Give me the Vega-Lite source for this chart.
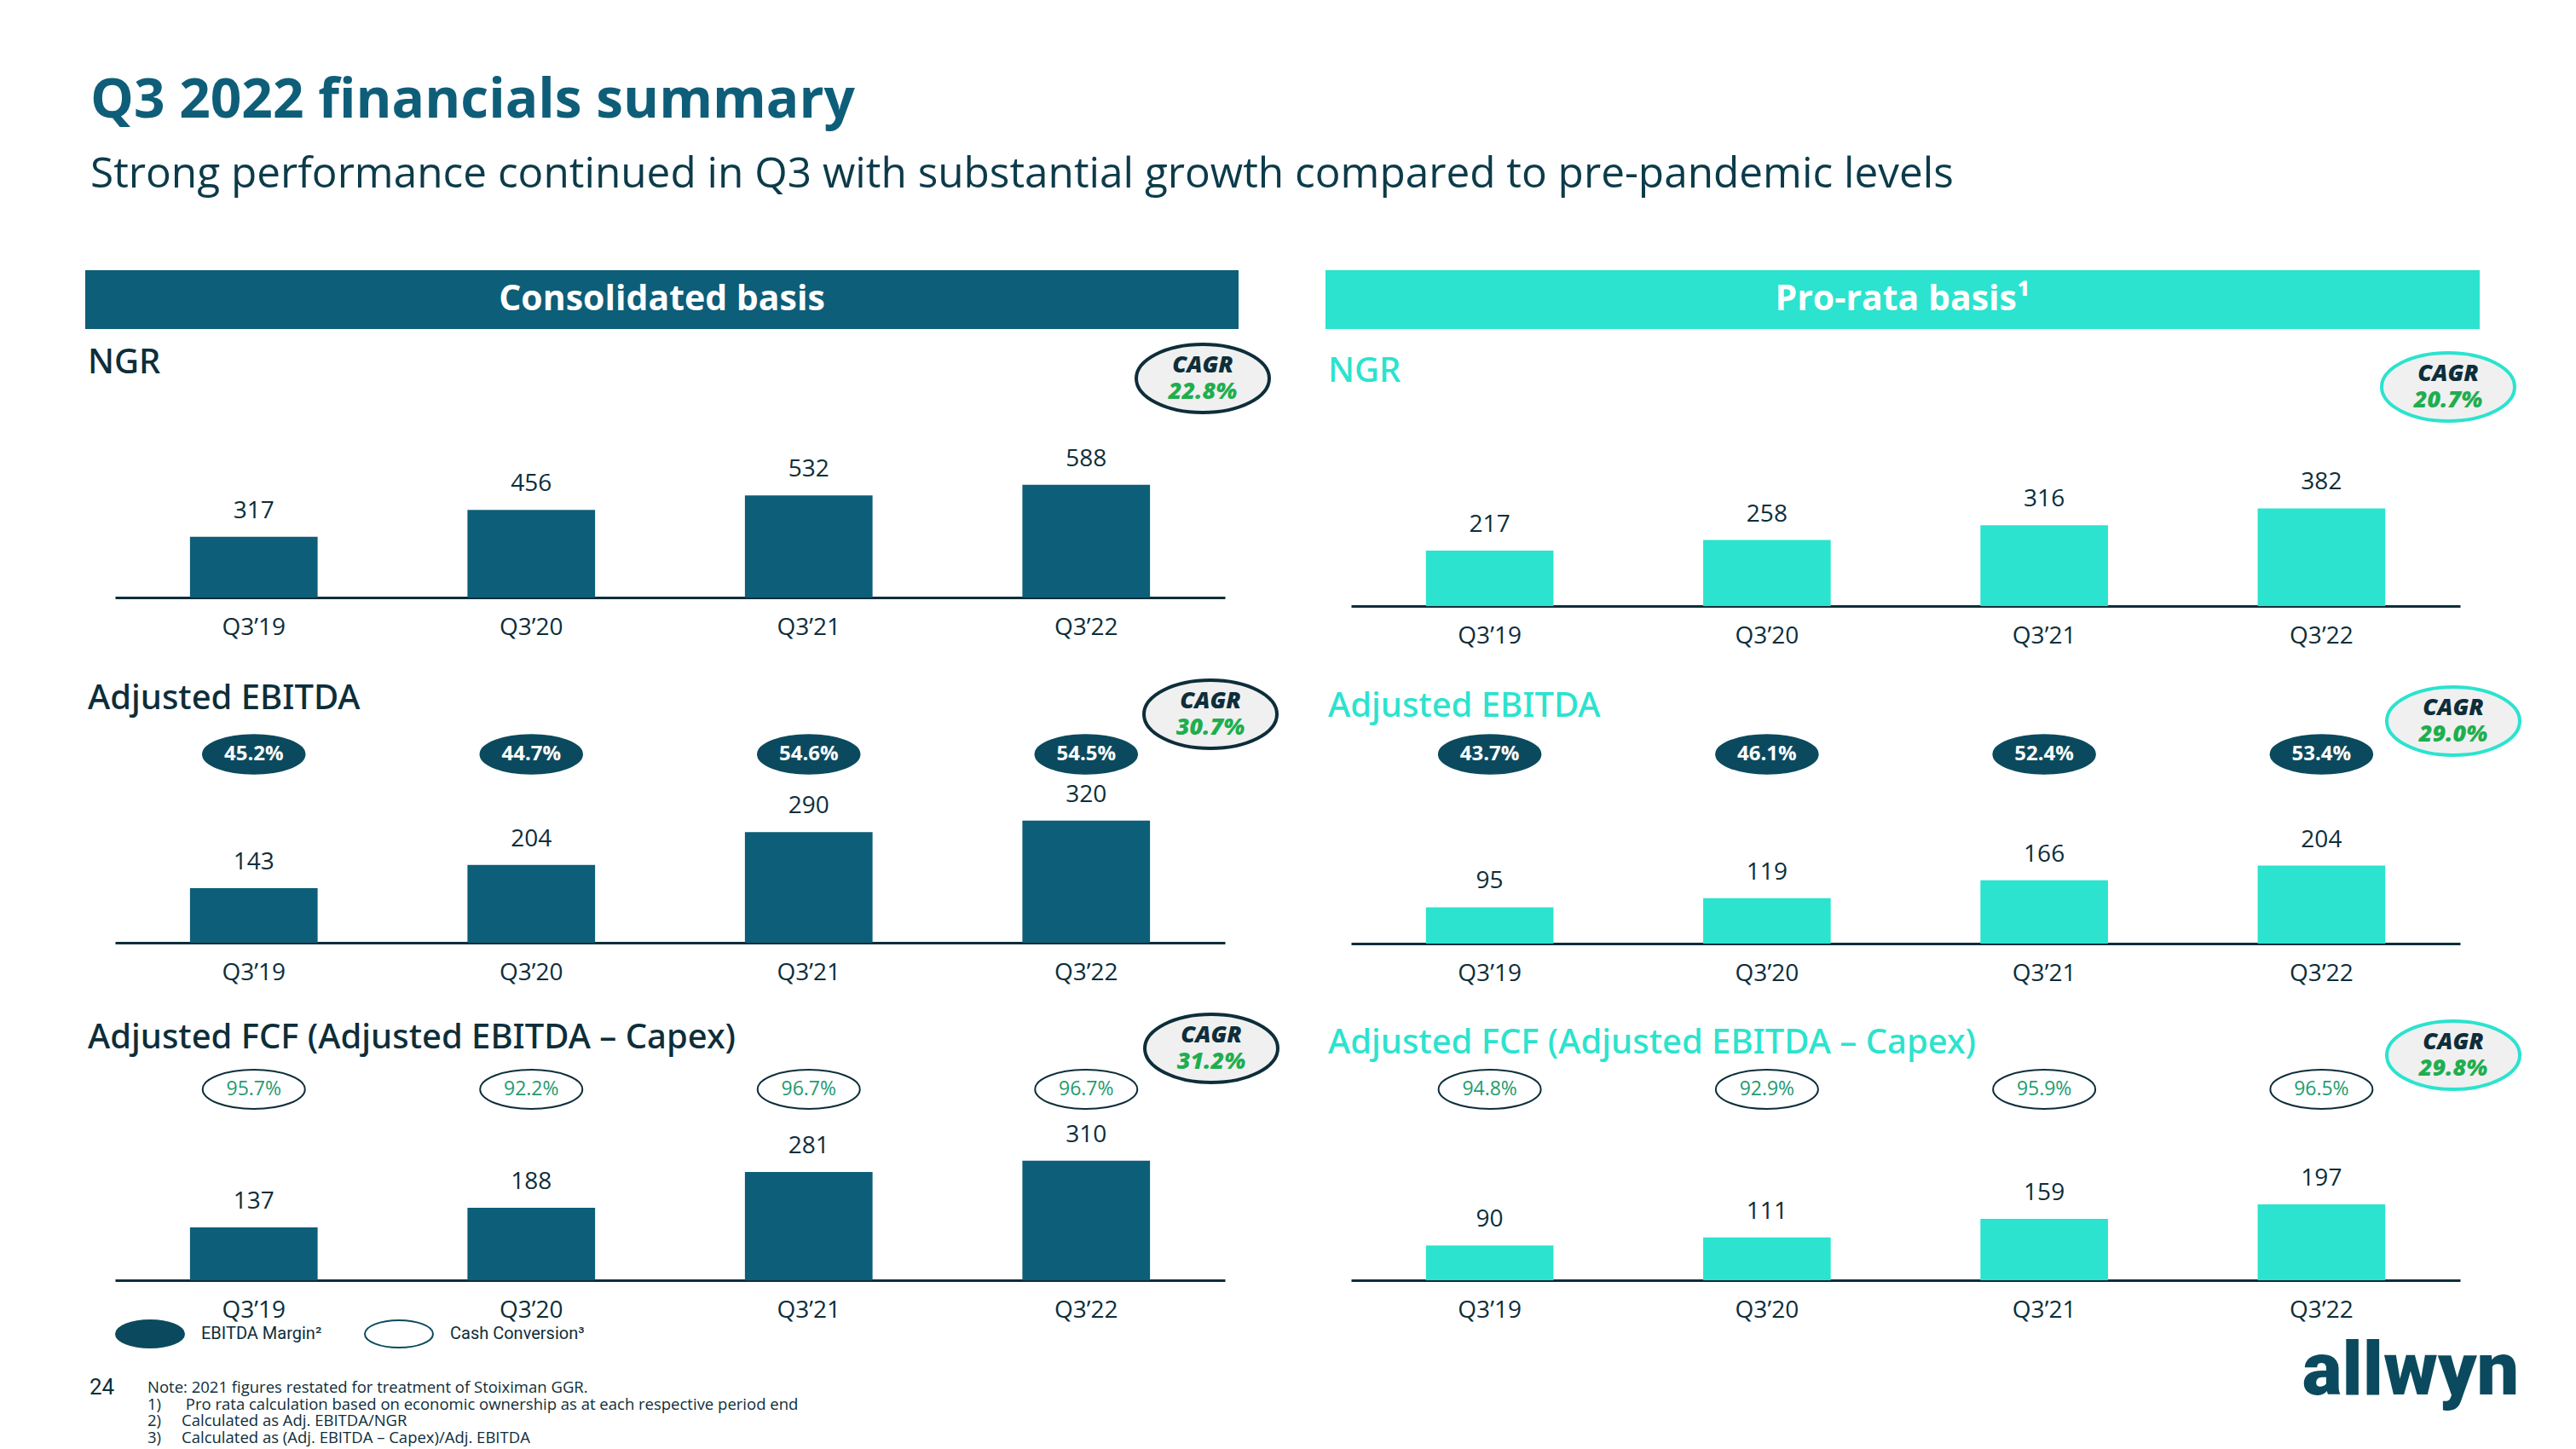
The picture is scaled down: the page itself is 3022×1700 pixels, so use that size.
{
"$schema": "https://vega.github.io/schema/vega-lite/v6.json",
"background": "#ffffff",
"padding": {"left": 100, "top": 86, "right": 10, "bottom": 4},
"bounds": "full",
"spacing": 0,
"title": {
  "text": "Q3 2022 financials summary",
  "subtitle": "Strong performance continued in Q3 with substantial growth compared to pre-pandemic levels",
  "anchor": "start", "frame": "group", "orient": "top", "offset": 88, "dx": 6, "baseline": "top",
  "font": "Open Sans", "fontSize": 64, "fontWeight": 700, "color": "#0f5e79",
  "subtitleFont": "Open Sans", "subtitleFontSize": 49.5, "subtitleFontWeight": 400, "subtitleColor": "#0c3b4a", "subtitlePadding": 30
},
"datasets": {
  "bars": [
    {"basis": "Consolidated", "metric": "NGR", "quarter": "Q3’19", "value": 317},
    {"basis": "Consolidated", "metric": "NGR", "quarter": "Q3’20", "value": 456},
    {"basis": "Consolidated", "metric": "NGR", "quarter": "Q3’21", "value": 532},
    {"basis": "Consolidated", "metric": "NGR", "quarter": "Q3’22", "value": 588},
    {"basis": "Consolidated", "metric": "Adjusted EBITDA", "quarter": "Q3’19", "value": 143},
    {"basis": "Consolidated", "metric": "Adjusted EBITDA", "quarter": "Q3’20", "value": 204},
    {"basis": "Consolidated", "metric": "Adjusted EBITDA", "quarter": "Q3’21", "value": 290},
    {"basis": "Consolidated", "metric": "Adjusted EBITDA", "quarter": "Q3’22", "value": 320},
    {"basis": "Consolidated", "metric": "Adjusted FCF", "quarter": "Q3’19", "value": 137},
    {"basis": "Consolidated", "metric": "Adjusted FCF", "quarter": "Q3’20", "value": 188},
    {"basis": "Consolidated", "metric": "Adjusted FCF", "quarter": "Q3’21", "value": 281},
    {"basis": "Consolidated", "metric": "Adjusted FCF", "quarter": "Q3’22", "value": 310},
    {"basis": "Pro-rata", "metric": "NGR", "quarter": "Q3’19", "value": 217},
    {"basis": "Pro-rata", "metric": "NGR", "quarter": "Q3’20", "value": 258},
    {"basis": "Pro-rata", "metric": "NGR", "quarter": "Q3’21", "value": 316},
    {"basis": "Pro-rata", "metric": "NGR", "quarter": "Q3’22", "value": 382},
    {"basis": "Pro-rata", "metric": "Adjusted EBITDA", "quarter": "Q3’19", "value": 95},
    {"basis": "Pro-rata", "metric": "Adjusted EBITDA", "quarter": "Q3’20", "value": 119},
    {"basis": "Pro-rata", "metric": "Adjusted EBITDA", "quarter": "Q3’21", "value": 166},
    {"basis": "Pro-rata", "metric": "Adjusted EBITDA", "quarter": "Q3’22", "value": 204},
    {"basis": "Pro-rata", "metric": "Adjusted FCF", "quarter": "Q3’19", "value": 90},
    {"basis": "Pro-rata", "metric": "Adjusted FCF", "quarter": "Q3’20", "value": 111},
    {"basis": "Pro-rata", "metric": "Adjusted FCF", "quarter": "Q3’21", "value": 159},
    {"basis": "Pro-rata", "metric": "Adjusted FCF", "quarter": "Q3’22", "value": 197}
  ],
  "ratios": [
    {"basis": "Consolidated", "kind": "EBITDA Margin²", "quarter": "Q3’19", "ratio": 0.452},
    {"basis": "Consolidated", "kind": "EBITDA Margin²", "quarter": "Q3’20", "ratio": 0.447},
    {"basis": "Consolidated", "kind": "EBITDA Margin²", "quarter": "Q3’21", "ratio": 0.546},
    {"basis": "Consolidated", "kind": "EBITDA Margin²", "quarter": "Q3’22", "ratio": 0.545},
    {"basis": "Consolidated", "kind": "Cash Conversion³", "quarter": "Q3’19", "ratio": 0.957},
    {"basis": "Consolidated", "kind": "Cash Conversion³", "quarter": "Q3’20", "ratio": 0.922},
    {"basis": "Consolidated", "kind": "Cash Conversion³", "quarter": "Q3’21", "ratio": 0.967},
    {"basis": "Consolidated", "kind": "Cash Conversion³", "quarter": "Q3’22", "ratio": 0.967},
    {"basis": "Pro-rata", "kind": "EBITDA Margin²", "quarter": "Q3’19", "ratio": 0.437},
    {"basis": "Pro-rata", "kind": "EBITDA Margin²", "quarter": "Q3’20", "ratio": 0.461},
    {"basis": "Pro-rata", "kind": "EBITDA Margin²", "quarter": "Q3’21", "ratio": 0.524},
    {"basis": "Pro-rata", "kind": "EBITDA Margin²", "quarter": "Q3’22", "ratio": 0.534},
    {"basis": "Pro-rata", "kind": "Cash Conversion³", "quarter": "Q3’19", "ratio": 0.948},
    {"basis": "Pro-rata", "kind": "Cash Conversion³", "quarter": "Q3’20", "ratio": 0.929},
    {"basis": "Pro-rata", "kind": "Cash Conversion³", "quarter": "Q3’21", "ratio": 0.959},
    {"basis": "Pro-rata", "kind": "Cash Conversion³", "quarter": "Q3’22", "ratio": 0.965}
  ],
  "cagr": [
    {"basis": "Consolidated", "metric": "NGR", "cagr": 0.228},
    {"basis": "Consolidated", "metric": "Adjusted EBITDA", "cagr": 0.307},
    {"basis": "Consolidated", "metric": "Adjusted FCF", "cagr": 0.312},
    {"basis": "Pro-rata", "metric": "NGR", "cagr": 0.207},
    {"basis": "Pro-rata", "metric": "Adjusted EBITDA", "cagr": 0.290},
    {"basis": "Pro-rata", "metric": "Adjusted FCF", "cagr": 0.298}
  ],
  "headers": [
    {"basis": "Consolidated", "label": "Consolidated basis"},
    {"basis": "Pro-rata", "label": "Pro-rata basis¹"}
  ],
  "logo": [{"label": "allwyn"}]
},
"config": {
  "view": {"stroke": null},
  "concat": {"spacing": 0},
  "font": "Open Sans"
},
"vconcat": [
  {"hconcat": [
    {"vconcat": [
      {"width": 1353, "height": 69, "view": {"fill": "#0d5e78", "stroke": null},
       "data": {"name": "headers"}, "transform": [{"filter": "datum.basis === 'Consolidated'"}],
       "mark": {"type": "text", "font": "Open Sans", "fontSize": 41, "fontWeight": 700, "color": "#ffffff"},
       "encoding": {"text": {"field": "label", "type": "nominal"}}},
      {"hconcat": [
        {"width": 1233, "height": 116, "data": {"values": []}, "mark": "point",
         "title": {"text": "NGR", "orient": "bottom", "anchor": "start", "frame": "group", "offset": -96, "dx": 3, "baseline": "top", "font": "Noto Sans", "fontSize": 40, "fontWeight": 500, "color": "#0d2e3a"}},
        {"width": 156, "height": 116, "data": {"name": "cagr"},
         "transform": [{"filter": "datum.basis === 'Consolidated' && datum.metric === 'NGR'"}],
         "layer": [
           {"mark": {"type": "point", "shape": "M-1,0A1,0.513,0,1,1,1,0A1,0.513,0,1,1,-1,0Z", "size": 24336, "filled": true, "fill": "#f0f0f0", "stroke": "#0d2e3a", "strokeWidth": 4, "opacity": 1}},
           {"mark": {"type": "text", "text": "CAGR", "dy": -15, "font": "Open Sans", "fontSize": 27, "fontStyle": "italic", "fontWeight": 800, "color": "#0d2e3a"}},
           {"mark": {"type": "text", "dy": 16, "font": "Open Sans", "fontSize": 27, "fontStyle": "italic", "fontWeight": 800, "color": "#1fae4f"},
            "encoding": {"text": {"field": "cagr", "type": "quantitative", "format": ".1%"}}}
         ]}
      ], "spacing": 0, "bounds": "flush"},
      {"width": 1353, "height": 199, "data": {"name": "bars"},
       "transform": [{"filter": "datum.basis === 'Consolidated' && datum.metric === 'NGR'"}],
       "encoding": {
         "x": {"field": "quarter", "type": "nominal", "scale": {"type": "band", "domain": ["Q3’19", "Q3’20", "Q3’21", "Q3’22"], "range": [35, 1337], "paddingInner": 0.54, "paddingOuter": 0.27},
               "axis": {"title": null, "labelAngle": 0, "labelFont": "Open Sans", "labelFontSize": 28, "labelColor": "#0d2e3a", "labelPadding": 21, "ticks": false, "tickSize": 0, "domainColor": "#0d2e3a", "domainWidth": 3, "grid": false}},
         "y": {"field": "value", "type": "quantitative", "scale": {"domain": [0, 884], "nice": false}, "axis": null}
       },
       "layer": [
         {"mark": {"type": "bar", "color": "#0d5e78"}},
         {"mark": {"type": "text", "baseline": "alphabetic", "dy": -22, "font": "Open Sans", "fontSize": 28, "color": "#0d2e3a"},
          "encoding": {"text": {"field": "value", "type": "quantitative"}}}
       ]},
      {"width": 1353, "height": 39, "data": {"values": []}, "mark": "point"},
      {"hconcat": [
        {"vconcat": [
          {"width": 1233, "height": 63, "data": {"values": []}, "mark": "point",
           "title": {"text": "Adjusted EBITDA", "orient": "bottom", "anchor": "start", "frame": "group", "offset": -59, "dx": 3, "baseline": "top", "font": "Noto Sans", "fontSize": 40, "fontWeight": 500, "color": "#0d2e3a"}},
          {"width": 1233, "height": 46, "data": {"name": "ratios"},
           "transform": [{"filter": "datum.basis === 'Consolidated' && datum.kind === 'EBITDA Margin²'"}],
           "encoding": {"x": {"field": "quarter", "type": "nominal", "scale": {"type": "band", "domain": ["Q3’19", "Q3’20", "Q3’21", "Q3’22"], "range": [35, 1337], "paddingInner": 0.54, "paddingOuter": 0.27}, "axis": null}},
           "layer": [
             {"mark": {"type": "point", "shape": "M-1,0A1,0.383,0,1,1,1,0A1,0.383,0,1,1,-1,0Z", "size": 14400, "filled": true, "opacity": 1, "stroke": "#0b4a5e", "strokeWidth": 1.5},
              "encoding": {"fill": {"field": "kind", "type": "nominal", "scale": {"domain": ["EBITDA Margin²", "Cash Conversion³"], "range": ["#0b4a5e", "#ffffff"]},
                "legend": {"title": null, "orient": "none", "legendX": 35, "legendY": 1207, "direction": "horizontal", "padding": 0, "symbolType": "M-1,0A1,0.4,0,1,1,1,0A1,0.4,0,1,1,-1,0Z", "symbolSize": 6400, "symbolStrokeColor": "#0b4a5e", "symbolStrokeWidth": 2, "symbolOpacity": 1, "labelFont": "Roboto", "labelFontSize": 20, "labelColor": "#0d2e3a", "labelOffset": 19, "columnPadding": 46, "labelLimit": 400}}}},
             {"mark": {"type": "text", "font": "Open Sans", "fontSize": 24, "fontWeight": 700, "color": "#ffffff"},
              "encoding": {"text": {"field": "ratio", "type": "quantitative", "format": ".1%"}}}
           ]}
        ], "spacing": 0, "bounds": "full"},
        {"width": 156, "height": 84, "data": {"name": "cagr"},
         "transform": [{"filter": "datum.basis === 'Consolidated' && datum.metric === 'Adjusted EBITDA'"}],
         "layer": [
           {"mark": {"type": "point", "shape": "M-1,0A1,0.513,0,1,1,1,0A1,0.513,0,1,1,-1,0Z", "size": 24336, "filled": true, "fill": "#f0f0f0", "stroke": "#0d2e3a", "strokeWidth": 4, "opacity": 1}},
           {"mark": {"type": "text", "text": "CAGR", "dy": -15, "font": "Open Sans", "fontSize": 27, "fontStyle": "italic", "fontWeight": 800, "color": "#0d2e3a"}},
           {"mark": {"type": "text", "dy": 16, "font": "Open Sans", "fontSize": 27, "fontStyle": "italic", "fontWeight": 800, "color": "#1fae4f"},
            "encoding": {"text": {"field": "cagr", "type": "quantitative", "format": ".1%"}}}
         ]}
      ], "spacing": -4, "bounds": "full"},
      {"width": 1353, "height": 195, "data": {"name": "bars"},
       "transform": [{"filter": "datum.basis === 'Consolidated' && datum.metric === 'Adjusted EBITDA'"}],
       "encoding": {
         "x": {"field": "quarter", "type": "nominal", "scale": {"type": "band", "domain": ["Q3’19", "Q3’20", "Q3’21", "Q3’22"], "range": [35, 1337], "paddingInner": 0.54, "paddingOuter": 0.27},
               "axis": {"title": null, "labelAngle": 0, "labelFont": "Open Sans", "labelFontSize": 28, "labelColor": "#0d2e3a", "labelPadding": 21, "ticks": false, "tickSize": 0, "domainColor": "#0d2e3a", "domainWidth": 3, "grid": false}},
         "y": {"field": "value", "type": "quantitative", "scale": {"domain": [0, 435.5], "nice": false}, "axis": null}
       },
       "layer": [
         {"mark": {"type": "bar", "color": "#0d5e78"}},
         {"mark": {"type": "text", "baseline": "alphabetic", "dy": -22, "font": "Open Sans", "fontSize": 28, "color": "#0d2e3a"},
          "encoding": {"text": {"field": "value", "type": "quantitative"}}}
       ]},
      {"width": 1353, "height": 26, "data": {"values": []}, "mark": "point"},
      {"hconcat": [
        {"vconcat": [
          {"width": 1233, "height": 63, "data": {"values": []}, "mark": "point",
           "title": {"text": "Adjusted FCF (Adjusted EBITDA – Capex)", "orient": "bottom", "anchor": "start", "frame": "group", "offset": -53, "dx": 3, "baseline": "top", "font": "Noto Sans", "fontSize": 40, "fontWeight": 500, "color": "#0d2e3a"}},
          {"width": 1233, "height": 46, "data": {"name": "ratios"},
           "transform": [{"filter": "datum.basis === 'Consolidated' && datum.kind === 'Cash Conversion³'"}],
           "encoding": {"x": {"field": "quarter", "type": "nominal", "scale": {"type": "band", "domain": ["Q3’19", "Q3’20", "Q3’21", "Q3’22"], "range": [35, 1337], "paddingInner": 0.54, "paddingOuter": 0.27}, "axis": null}},
           "layer": [
             {"mark": {"type": "point", "shape": "M-1,0A1,0.383,0,1,1,1,0A1,0.383,0,1,1,-1,0Z", "size": 14400, "filled": true, "opacity": 1, "stroke": "#0d2e3a", "strokeWidth": 2},
              "encoding": {"fill": {"field": "kind", "type": "nominal", "scale": {"domain": ["EBITDA Margin²", "Cash Conversion³"], "range": ["#0b4a5e", "#ffffff"]},
                "legend": {"title": null, "orient": "none", "legendX": 35, "legendY": 1207, "direction": "horizontal", "padding": 0, "symbolType": "M-1,0A1,0.4,0,1,1,1,0A1,0.4,0,1,1,-1,0Z", "symbolSize": 6400, "symbolStrokeColor": "#0b4a5e", "symbolStrokeWidth": 2, "symbolOpacity": 1, "labelFont": "Roboto", "labelFontSize": 20, "labelColor": "#0d2e3a", "labelOffset": 19, "columnPadding": 46, "labelLimit": 400}}}},
             {"mark": {"type": "text", "font": "Open Sans", "fontSize": 23, "fontWeight": 500, "color": "#1f9c70"},
              "encoding": {"text": {"field": "ratio", "type": "quantitative", "format": ".1%"}}}
           ]}
        ], "spacing": 0, "bounds": "full"},
        {"width": 156, "height": 84, "data": {"name": "cagr"},
         "transform": [{"filter": "datum.basis === 'Consolidated' && datum.metric === 'Adjusted FCF'"}],
         "layer": [
           {"mark": {"type": "point", "shape": "M-1,0A1,0.513,0,1,1,1,0A1,0.513,0,1,1,-1,0Z", "size": 24336, "filled": true, "fill": "#f0f0f0", "stroke": "#0d2e3a", "strokeWidth": 4, "opacity": 1}},
           {"mark": {"type": "text", "text": "CAGR", "dy": -15, "font": "Open Sans", "fontSize": 27, "fontStyle": "italic", "fontWeight": 800, "color": "#0d2e3a"}},
           {"mark": {"type": "text", "dy": 16, "font": "Open Sans", "fontSize": 27, "fontStyle": "italic", "fontWeight": 800, "color": "#1fae4f"},
            "encoding": {"text": {"field": "cagr", "type": "quantitative", "format": ".1%"}}}
         ]}
      ], "spacing": -4, "bounds": "full"},
      {"width": 1353, "height": 197, "data": {"name": "bars"},
       "transform": [{"filter": "datum.basis === 'Consolidated' && datum.metric === 'Adjusted FCF'"}],
       "encoding": {
         "x": {"field": "quarter", "type": "nominal", "scale": {"type": "band", "domain": ["Q3’19", "Q3’20", "Q3’21", "Q3’22"], "range": [35, 1337], "paddingInner": 0.54, "paddingOuter": 0.27},
               "axis": {"title": null, "labelAngle": 0, "labelFont": "Open Sans", "labelFontSize": 28, "labelColor": "#0d2e3a", "labelPadding": 21, "ticks": false, "tickSize": 0, "domainColor": "#0d2e3a", "domainWidth": 3, "grid": false}},
         "y": {"field": "value", "type": "quantitative", "scale": {"domain": [0, 435.5], "nice": false}, "axis": null}
       },
       "layer": [
         {"mark": {"type": "bar", "color": "#0d5e78"}},
         {"mark": {"type": "text", "baseline": "alphabetic", "dy": -22, "font": "Open Sans", "fontSize": 28, "color": "#0d2e3a"},
          "encoding": {"text": {"field": "value", "type": "quantitative"}}}
       ]}
    ], "spacing": 0, "bounds": "full"},
    {"vconcat": [
      {"width": 1354, "height": 69, "view": {"fill": "#2be3ce", "stroke": null},
       "data": {"name": "headers"}, "transform": [{"filter": "datum.basis === 'Pro-rata'"}],
       "mark": {"type": "text", "font": "Open Sans", "fontSize": 41, "fontWeight": 700, "color": "#ffffff"},
       "encoding": {"text": {"field": "label", "type": "nominal"}}},
      {"hconcat": [
        {"width": 1239, "height": 136, "data": {"values": []}, "mark": "point",
         "title": {"text": "NGR", "orient": "bottom", "anchor": "start", "frame": "group", "offset": -106, "dx": 3, "baseline": "top", "font": "Noto Sans", "fontSize": 40, "fontWeight": 500, "color": "#2be3ce"}},
        {"width": 156, "height": 136, "data": {"name": "cagr"},
         "transform": [{"filter": "datum.basis === 'Pro-rata' && datum.metric === 'NGR'"}],
         "layer": [
           {"mark": {"type": "point", "shape": "M-1,0A1,0.513,0,1,1,1,0A1,0.513,0,1,1,-1,0Z", "size": 24336, "filled": true, "fill": "#f0f0f0", "stroke": "#2be3ce", "strokeWidth": 4, "opacity": 1}},
           {"mark": {"type": "text", "text": "CAGR", "dy": -15, "font": "Open Sans", "fontSize": 27, "fontStyle": "italic", "fontWeight": 800, "color": "#0d2e3a"}},
           {"mark": {"type": "text", "dy": 16, "font": "Open Sans", "fontSize": 27, "fontStyle": "italic", "fontWeight": 800, "color": "#1fae4f"},
            "encoding": {"text": {"field": "cagr", "type": "quantitative", "format": ".1%"}}}
         ]}
      ], "spacing": 0, "bounds": "flush"},
      {"width": 1354, "height": 189, "data": {"name": "bars"},
       "transform": [{"filter": "datum.basis === 'Pro-rata' && datum.metric === 'NGR'"}],
       "encoding": {
         "x": {"field": "quarter", "type": "nominal", "scale": {"type": "band", "domain": ["Q3’19", "Q3’20", "Q3’21", "Q3’22"], "range": [30, 1331], "paddingInner": 0.54, "paddingOuter": 0.27},
               "axis": {"title": null, "labelAngle": 0, "labelFont": "Open Sans", "labelFontSize": 28, "labelColor": "#0d2e3a", "labelPadding": 21, "ticks": false, "tickSize": 0, "domainColor": "#0d2e3a", "domainWidth": 3, "grid": false}},
         "y": {"field": "value", "type": "quantitative", "scale": {"domain": [0, 630], "nice": false}, "axis": null}
       },
       "layer": [
         {"mark": {"type": "bar", "color": "#2be3ce"}},
         {"mark": {"type": "text", "baseline": "alphabetic", "dy": -22, "font": "Open Sans", "fontSize": 28, "color": "#0d2e3a"},
          "encoding": {"text": {"field": "value", "type": "quantitative"}}}
       ]},
      {"width": 1354, "height": 37, "data": {"values": []}, "mark": "point"},
      {"hconcat": [
        {"vconcat": [
          {"width": 1239, "height": 55, "data": {"values": []}, "mark": "point",
           "title": {"text": "Adjusted EBITDA", "orient": "bottom", "anchor": "start", "frame": "group", "offset": -50, "dx": 3, "baseline": "top", "font": "Noto Sans", "fontSize": 40, "fontWeight": 500, "color": "#2be3ce"}},
          {"width": 1239, "height": 46, "data": {"name": "ratios"},
           "transform": [{"filter": "datum.basis === 'Pro-rata' && datum.kind === 'EBITDA Margin²'"}],
           "encoding": {"x": {"field": "quarter", "type": "nominal", "scale": {"type": "band", "domain": ["Q3’19", "Q3’20", "Q3’21", "Q3’22"], "range": [30, 1331], "paddingInner": 0.54, "paddingOuter": 0.27}, "axis": null}},
           "layer": [
             {"mark": {"type": "point", "shape": "M-1,0A1,0.383,0,1,1,1,0A1,0.383,0,1,1,-1,0Z", "size": 14400, "filled": true, "opacity": 1, "stroke": "#0b4a5e", "strokeWidth": 1.5},
              "encoding": {"fill": {"field": "kind", "type": "nominal", "scale": {"domain": ["EBITDA Margin²", "Cash Conversion³"], "range": ["#0b4a5e", "#ffffff"]},
                "legend": {"title": null, "orient": "none", "legendX": 35, "legendY": 1207, "direction": "horizontal", "padding": 0, "symbolType": "M-1,0A1,0.4,0,1,1,1,0A1,0.4,0,1,1,-1,0Z", "symbolSize": 6400, "symbolStrokeColor": "#0b4a5e", "symbolStrokeWidth": 2, "symbolOpacity": 1, "labelFont": "Roboto", "labelFontSize": 20, "labelColor": "#0d2e3a", "labelOffset": 19, "columnPadding": 46, "labelLimit": 400}}}},
             {"mark": {"type": "text", "font": "Open Sans", "fontSize": 24, "fontWeight": 700, "color": "#ffffff"},
              "encoding": {"text": {"field": "ratio", "type": "quantitative", "format": ".1%"}}}
           ]}
        ], "spacing": 0, "bounds": "full"},
        {"width": 156, "height": 84, "data": {"name": "cagr"},
         "transform": [{"filter": "datum.basis === 'Pro-rata' && datum.metric === 'Adjusted EBITDA'"}],
         "layer": [
           {"mark": {"type": "point", "shape": "M-1,0A1,0.513,0,1,1,1,0A1,0.513,0,1,1,-1,0Z", "size": 24336, "filled": true, "fill": "#f0f0f0", "stroke": "#2be3ce", "strokeWidth": 4, "opacity": 1}},
           {"mark": {"type": "text", "text": "CAGR", "dy": -15, "font": "Open Sans", "fontSize": 27, "fontStyle": "italic", "fontWeight": 800, "color": "#0d2e3a"}},
           {"mark": {"type": "text", "dy": 16, "font": "Open Sans", "fontSize": 27, "fontStyle": "italic", "fontWeight": 800, "color": "#1fae4f"},
            "encoding": {"text": {"field": "cagr", "type": "quantitative", "format": ".1%"}}}
         ]}
      ], "spacing": -2, "bounds": "full"},
      {"width": 1354, "height": 196, "data": {"name": "bars"},
       "transform": [{"filter": "datum.basis === 'Pro-rata' && datum.metric === 'Adjusted EBITDA'"}],
       "encoding": {
         "x": {"field": "quarter", "type": "nominal", "scale": {"type": "band", "domain": ["Q3’19", "Q3’20", "Q3’21", "Q3’22"], "range": [30, 1331], "paddingInner": 0.54, "paddingOuter": 0.27},
               "axis": {"title": null, "labelAngle": 0, "labelFont": "Open Sans", "labelFontSize": 28, "labelColor": "#0d2e3a", "labelPadding": 21, "ticks": false, "tickSize": 0, "domainColor": "#0d2e3a", "domainWidth": 3, "grid": false}},
         "y": {"field": "value", "type": "quantitative", "scale": {"domain": [0, 437.5], "nice": false}, "axis": null}
       },
       "layer": [
         {"mark": {"type": "bar", "color": "#2be3ce"}},
         {"mark": {"type": "text", "baseline": "alphabetic", "dy": -22, "font": "Open Sans", "fontSize": 28, "color": "#0d2e3a"},
          "encoding": {"text": {"field": "value", "type": "quantitative"}}}
       ]},
      {"width": 1354, "height": 33, "data": {"values": []}, "mark": "point"},
      {"hconcat": [
        {"vconcat": [
          {"width": 1239, "height": 55, "data": {"values": []}, "mark": "point",
           "title": {"text": "Adjusted FCF (Adjusted EBITDA – Capex)", "orient": "bottom", "anchor": "start", "frame": "group", "offset": -47, "dx": 3, "baseline": "top", "font": "Noto Sans", "fontSize": 40, "fontWeight": 500, "color": "#2be3ce"}},
          {"width": 1239, "height": 46, "data": {"name": "ratios"},
           "transform": [{"filter": "datum.basis === 'Pro-rata' && datum.kind === 'Cash Conversion³'"}],
           "encoding": {"x": {"field": "quarter", "type": "nominal", "scale": {"type": "band", "domain": ["Q3’19", "Q3’20", "Q3’21", "Q3’22"], "range": [30, 1331], "paddingInner": 0.54, "paddingOuter": 0.27}, "axis": null}},
           "layer": [
             {"mark": {"type": "point", "shape": "M-1,0A1,0.383,0,1,1,1,0A1,0.383,0,1,1,-1,0Z", "size": 14400, "filled": true, "opacity": 1, "stroke": "#0d2e3a", "strokeWidth": 2},
              "encoding": {"fill": {"field": "kind", "type": "nominal", "scale": {"domain": ["EBITDA Margin²", "Cash Conversion³"], "range": ["#0b4a5e", "#ffffff"]},
                "legend": {"title": null, "orient": "none", "legendX": 35, "legendY": 1207, "direction": "horizontal", "padding": 0, "symbolType": "M-1,0A1,0.4,0,1,1,1,0A1,0.4,0,1,1,-1,0Z", "symbolSize": 6400, "symbolStrokeColor": "#0b4a5e", "symbolStrokeWidth": 2, "symbolOpacity": 1, "labelFont": "Roboto", "labelFontSize": 20, "labelColor": "#0d2e3a", "labelOffset": 19, "columnPadding": 46, "labelLimit": 400}}}},
             {"mark": {"type": "text", "font": "Open Sans", "fontSize": 23, "fontWeight": 500, "color": "#1f9c70"},
              "encoding": {"text": {"field": "ratio", "type": "quantitative", "format": ".1%"}}}
           ]}
        ], "spacing": 0, "bounds": "full"},
        {"width": 156, "height": 84, "data": {"name": "cagr"},
         "transform": [{"filter": "datum.basis === 'Pro-rata' && datum.metric === 'Adjusted FCF'"}],
         "layer": [
           {"mark": {"type": "point", "shape": "M-1,0A1,0.513,0,1,1,1,0A1,0.513,0,1,1,-1,0Z", "size": 24336, "filled": true, "fill": "#f0f0f0", "stroke": "#2be3ce", "strokeWidth": 4, "opacity": 1}},
           {"mark": {"type": "text", "text": "CAGR", "dy": -15, "font": "Open Sans", "fontSize": 27, "fontStyle": "italic", "fontWeight": 800, "color": "#0d2e3a"}},
           {"mark": {"type": "text", "dy": 16, "font": "Open Sans", "fontSize": 27, "fontStyle": "italic", "fontWeight": 800, "color": "#1fae4f"},
            "encoding": {"text": {"field": "cagr", "type": "quantitative", "format": ".1%"}}}
         ]}
      ], "spacing": -2, "bounds": "full"},
      {"width": 1354, "height": 197, "data": {"name": "bars"},
       "transform": [{"filter": "datum.basis === 'Pro-rata' && datum.metric === 'Adjusted FCF'"}],
       "encoding": {
         "x": {"field": "quarter", "type": "nominal", "scale": {"type": "band", "domain": ["Q3’19", "Q3’20", "Q3’21", "Q3’22"], "range": [30, 1331], "paddingInner": 0.54, "paddingOuter": 0.27},
               "axis": {"title": null, "labelAngle": 0, "labelFont": "Open Sans", "labelFontSize": 28, "labelColor": "#0d2e3a", "labelPadding": 21, "ticks": false, "tickSize": 0, "domainColor": "#0d2e3a", "domainWidth": 3, "grid": false}},
         "y": {"field": "value", "type": "quantitative", "scale": {"domain": [0, 435.5], "nice": false}, "axis": null}
       },
       "layer": [
         {"mark": {"type": "bar", "color": "#2be3ce"}},
         {"mark": {"type": "text", "baseline": "alphabetic", "dy": -22, "font": "Open Sans", "fontSize": 28, "color": "#0d2e3a"},
          "encoding": {"text": {"field": "value", "type": "quantitative"}}}
       ]}
    ], "spacing": 0, "bounds": "full"}
  ], "spacing": 48, "bounds": "full"},
  {"hconcat": [
    {"width": 73, "height": 144, "data": {"values": []}, "mark": "point",
     "title": {"text": "24", "orient": "bottom", "anchor": "start", "frame": "group", "offset": -80, "dx": 5, "baseline": "top", "font": "Roboto", "fontSize": 26, "fontWeight": 400, "color": "#0d2e3a"}},
    {"width": 2525, "height": 144, "data": {"values": []}, "mark": "point",
     "title": {"text": ["Note: 2021 figures restated for treatment of Stoiximan GGR.", "1)\u00a0\u00a0\u00a0\u00a0\u00a0\u00a0Pro rata calculation based on economic ownership as at each respective period end", "2)\u00a0\u00a0\u00a0\u00a0\u00a0Calculated as Adj. EBITDA/NGR", "3)\u00a0\u00a0\u00a0\u00a0\u00a0Calculated as (Adj. EBITDA – Capex)/Adj. EBITDA"],
       "orient": "bottom", "anchor": "start", "frame": "group", "offset": -76, "baseline": "top", "font": "Open Sans", "fontSize": 18.5, "lineHeight": 19.5, "fontWeight": 400, "color": "#0d2e3a"}},
    {"width": 260, "height": 144, "data": {"name": "logo"},
     "mark": {"type": "text", "font": "Roboto", "fontSize": 88, "fontWeight": 900, "color": "#0b4a5e", "baseline": "alphabetic", "dy": 13},
     "encoding": {"text": {"field": "label", "type": "nominal"}}}
  ], "spacing": 0, "bounds": "flush"}
]
}
